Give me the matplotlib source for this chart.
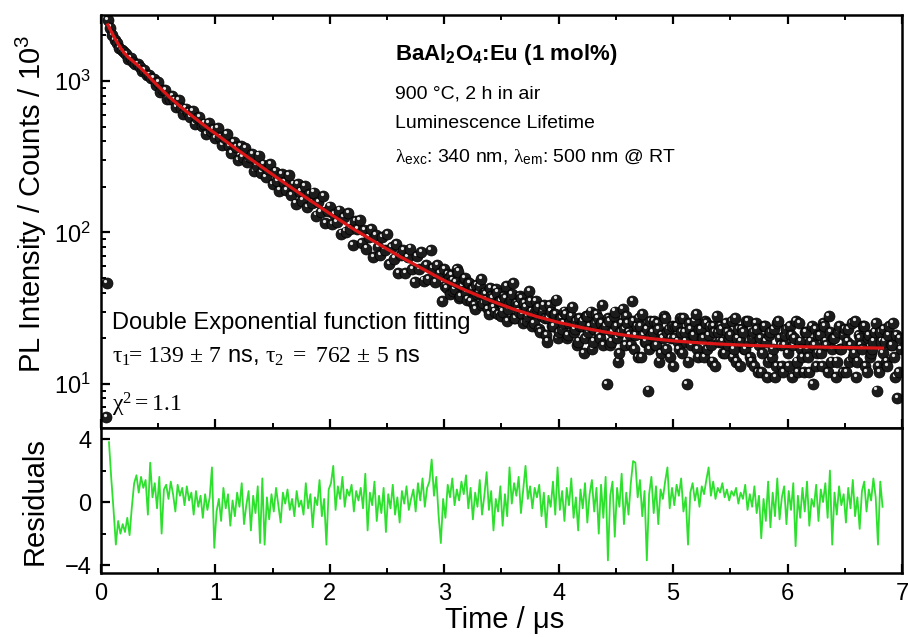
"""
PL decay of BaAl2O4:Eu (1 mol%) with double exponential fit and residuals.
"""

import matplotlib
import numpy as np

matplotlib.use("Agg")
import matplotlib.pyplot as plt
import matplotlib.transforms as mtransforms
from matplotlib.ticker import LogLocator, MultipleLocator, NullFormatter

plt.rcParams["font.family"] = ["Liberation Sans", "DejaVu Sans"]
plt.rcParams["mathtext.fontset"] = "custom"
plt.rcParams["mathtext.rm"] = "Liberation Serif"
plt.rcParams["mathtext.it"] = "Liberation Serif:italic"
plt.rcParams["mathtext.bf"] = "Liberation Sans:bold"
plt.rcParams["mathtext.sf"] = "Liberation Sans"

# points before the rise (µs, counts)
pre_t = [0.045, 0.05]
pre_counts = [6.0, 46.0]

# decay data, channels of 0.02 µs starting at 0.06 µs
t_start, t_step = 0.06, 0.02
counts = [
    2530, 2250, 2010, 1860, 1790, 1650, 1600, 1560, 1510, 1400,
    1420, 1330, 1290, 1300, 1240, 1170, 1180, 1090, 1100, 1040,
    1036, 943, 980, 847, 875, 875, 755, 761, 798, 746,
    676, 749, 663, 608, 658, 622, 576, 629, 520, 568,
    577, 503, 523, 445, 524, 464, 482, 420, 487, 424,
    379, 421, 446, 373, 334, 395, 364, 299, 373, 314,
    361, 293, 313, 329, 253, 276, 321, 248, 280, 231,
    261, 281, 209, 252, 218, 189, 242, 216, 191, 240,
    177, 207, 155, 209, 186, 162, 201, 146, 179, 157,
    183, 129, 158, 136, 173, 115, 138, 148, 114, 132,
    117, 139, 98, 126, 101, 134, 106, 82, 118, 105,
    120, 85, 103, 78, 93, 105, 69, 96, 80, 71,
    93, 77, 97, 62, 80, 67, 84, 54, 71, 76,
    54, 69, 78, 57, 47, 70, 57, 74, 48, 61,
    49, 76, 58, 47, 61, 54, 35, 57, 43, 50,
    52, 41, 47, 55, 38, 44, 50, 36, 46, 42,
    33, 45, 40, 49, 34, 39, 31, 43, 37, 30,
    40, 35, 28, 38, 44, 31, 36, 46, 27, 33,
    38, 29, 34, 26, 41, 30, 25, 35, 32, 22,
    30, 27, 19, 33, 24, 29, 36, 22, 27, 25,
    29, 21, 26, 32, 23, 18, 27, 24, 16, 28,
    22, 30, 19, 25, 27, 20, 33, 23, 10, 26,
    19, 28, 24, 14, 22, 31, 18, 25, 21, 35,
    17, 24, 27, 15, 21, 19, 9, 26, 22, 18,
    25, 14, 21, 28, 17, 23, 20, 13, 24, 19,
    27, 16, 22, 10, 25, 18, 21, 29, 15, 23,
    20, 26, 17, 24, 14, 22, 28, 19, 23, 16,
    25, 18, 21, 15, 27, 20, 13, 23, 17, 26,
    19, 14, 22, 25, 12, 20, 16, 24, 11, 21,
    15, 23, 13, 26, 18, 12, 21, 16, 24, 11,
    20, 14, 25, 17, 12, 22, 15, 19, 10, 23,
    16, 21, 13, 24, 18, 28, 14, 20, 11, 22,
    17, 12, 23, 19, 14, 25, 16, 11, 21, 18,
    24, 13, 20, 15, 17, 22, 9, 12, 19, 23,
    14, 21, 18, 25, 11, 8, 20,
]

# interleaved tail channels (3.01 ... 6.99 µs), where the record is densest
tail_start = 3.01
tail_counts = [
    44, 53, 39, 48, 42, 57, 37, 45, 49, 40,
    46, 35, 42, 31, 39, 44, 33, 40, 36, 29,
    38, 32, 42, 29, 35, 30, 37, 26, 34, 39,
    27, 34, 30, 37, 25, 32, 28, 35, 24, 30,
    31, 23, 28, 33, 21, 27, 30, 24, 29, 20,
    27, 23, 30, 20, 25, 28, 22, 26, 19, 24,
    26, 20, 28, 24, 17, 23, 29, 21, 25, 18,
    24, 27, 18, 22, 30, 20, 16, 25, 23, 28,
    22, 18, 26, 21, 15, 24, 29, 19, 23, 17,
    21, 26, 18, 23, 16, 20, 27, 22, 15, 24,
    20, 24, 17, 22, 27, 19, 14, 23, 21, 26,
    17, 23, 20, 15, 25, 21, 18, 24, 13, 22,
    24, 19, 16, 22, 20, 26, 17, 14, 23, 19,
    22, 17, 26, 15, 20, 13, 23, 18, 12, 24,
    19, 14, 22, 17, 11, 25, 20, 13, 18, 23,
    13, 21, 18, 26, 12, 19, 15, 22, 17, 12,
    24, 18, 13, 21, 16, 25, 19, 12, 22, 17,
    20, 14, 24, 17, 21, 12, 23, 18, 15, 26,
    14, 20, 17, 24, 12, 21, 16, 19, 25, 13,
    22, 16, 19, 13, 24, 18, 15, 21, 12, 17,
]

# fitted curve
fit_t = [0.06, 0.08, 0.10, 0.12, 0.14, 0.16, 0.18, 0.20, 0.24, 0.28,
         0.32, 0.36, 0.40, 0.45, 0.50, 0.55, 0.60, 0.70, 0.80, 0.90,
         1.0, 1.2, 1.4, 1.6, 1.8, 2.0, 2.2, 2.4, 2.6, 2.8,
         3.0, 3.2, 3.4, 3.6, 3.8, 4.0, 4.2, 4.4, 4.6, 4.8,
         5.0, 5.2, 5.4, 5.6, 5.8, 6.0, 6.2, 6.4, 6.6, 6.83]
fit_counts = [2350, 2190, 2050, 1920, 1810, 1710, 1620, 1540, 1430, 1350,
              1270, 1190, 1110, 1010, 925, 850, 780, 672, 584, 511,
              449, 348, 272, 213, 168, 133, 106, 86, 70, 58,
              48, 41, 35.5, 31.2, 27.9, 25.4, 23.5, 22.0, 20.8, 19.9,
              19.2, 18.7, 18.3, 18.0, 17.8, 17.6, 17.5, 17.4, 17.3, 17.2]

# weighted residuals, 0.02 µs steps from 0.07 µs
r_start, r_step = 0.07, 0.02
residuals = [
    3.8, 1.5, -0.5, -2.7, -1.2, -2.0, -1.4, -1.9, -1.0, -2.1,
    -0.3, 1.2, 1.7, 0.6, 1.6, 0.9, 1.4, -0.8, 2.5, 0.3,
    1.2, -0.4, 1.6, -2.0, 0.8, 1.1, 0.2, 1.3, 0.5, -0.6,
    1.1, 0.4, 0.9, -0.2, 1.0, 0.1, 0.6, -0.8, 0.7, -0.3,
    0.4, -1.0, 0.5, -0.5, 0.3, 2.2, -2.9, -0.6, 0.2, -1.2,
    0.9, -0.4, 0.5, -1.5, 0.1, -0.9, 0.6, -0.3, 1.2, -1.4,
    -0.2, 0.7, -1.8, 0.4, -0.7, 1.0, -2.6, 1.5, -2.7, 0.3,
    -1.1, 0.5, -0.6, 0.9, -0.2, -1.3, 0.6, -0.1, 0.8, -0.5,
    0.2, -0.9, 0.7, -0.3, 0.1, -0.8, 1.2, -0.4, 0.5, -1.6,
    0.3, -0.2, 1.4, -0.9, 0.2, -2.7, 0.8, 1.2, 2.3, -0.5,
    1.0, 0.2, 1.6, -0.3, 0.8, 0.4, 1.1, -0.6, 0.7, 0.1,
    0.9, -0.4, 1.8, -1.8, 0.6, -0.2, 1.3, -1.2, 0.4, -0.7,
    0.9, -1.9, 0.5, -0.4, 1.1, -0.8, 0.3, -1.3, 0.7, -0.1,
    1.0, -0.5, 0.2, 0.8, -0.6, 1.2, 0.1, 1.5, -0.3, 0.9,
    1.3, 2.7, 0.4, 1.6, -0.8, -2.6, 0.2, -1.0, 1.1, 0.3,
    1.5, -0.2, 0.8, 0.1, 1.3, 0.5, 1.7, -0.4, 0.9, -1.1,
    0.6, -0.3, 1.4, -0.8, 0.4, 1.9, -0.5, 0.7, -1.8, 0.2,
    -0.6, 1.0, -1.5, 0.5, -0.9, 2.2, -0.1, 1.2, 0.4, 1.6,
    -0.7, 0.8, 2.3, 0.2, 1.0, -0.4, 0.9, 0.3, 1.1, -0.9,
    0.6, -1.6, 0.4, -0.3, 1.3, -0.8, 2.2, -0.5, 0.7, -1.2,
    0.9, -0.2, 1.5, -1.0, 0.3, -1.8, 0.8, -0.4, 1.2, -1.3,
    0.5, 1.4, -0.6, 0.9, -2.0, 1.1, -1.0, 1.6, -3.7, 0.4,
    1.3, -2.2, 0.9, -0.3, 1.8, -1.4, 0.6, -0.8, 1.2, 2.6,
    2.5, 0.3, 1.4, -0.9, 0.7, -3.7, 0.5, 1.6, -0.7, 1.0,
    -1.4, 0.8, 0.2, 1.3, 2.2, -0.4, 0.9, -0.2, 1.1, 0.4,
    1.5, -0.6, 0.3, -2.7, 0.6, 1.2, 0.1, 0.9, -0.3, 1.0,
    0.5, 1.4, 2.2, 0.4, 1.3, 0.2, 0.9, 0.6, 1.2, 0.3,
    0.8, 0.1, 0.7, 0.4, 0.9, -0.1, 0.6, 0.2, 1.1, -0.5,
    0.5, -0.3, 1.0, -0.7, 0.4, -2.3, 0.2, -1.2, 1.3, -1.6,
    0.6, -0.9, 1.5, -1.1, 0.3, 1.0, -1.4, 0.7, -0.5, 1.2,
    -2.8, 0.4, -1.0, 0.9, -0.6, 1.3, -1.5, 0.2, -0.3, 1.1,
    -1.2, 0.8, 0.0, 1.2, -1.0, 2.0, -2.7, 0.6, -0.8, 1.0,
    -0.2, 0.5, -1.3, 0.9, -0.4, 1.4, -0.9, 0.3, -1.7, 0.7,
    1.3, -0.6, 0.8, 0.1, 1.5, 0.3, -2.7, 1.3, -0.3,
]

t_data = np.round(t_start + t_step * np.arange(len(counts)), 3)
t_tail = np.round(tail_start + t_step * np.arange(len(tail_counts)), 3)
t_res = np.round(r_start + r_step * np.arange(len(residuals)), 3)

fig = plt.figure(figsize=(9.08, 6.37), dpi=100)
ax1 = fig.add_axes([0.1112, 0.3281, 0.8822, 0.6484])
ax2 = fig.add_axes([0.1112, 0.1005, 0.8822, 0.2276])

# merge all channels in time order, then draw shaded spheres point by point
all_t = np.concatenate([pre_t, t_data, t_tail])
all_c = np.concatenate([pre_counts, counts, tail_counts])
order = np.argsort(all_t, kind="stable")
hl = ax1.transData + mtransforms.ScaledTranslation(-1.0 / 72, 1.6 / 72, fig.dpi_scale_trans)
for ti, ci in zip(all_t[order], all_c[order]):
    ax1.plot(ti, ci, "o", ms=7.9, mfc="#1c1c1c", mec="#000000", mew=0.5, zorder=2)
    ax1.plot(ti, ci, "o", ms=2.3, mfc="#e4e4e4", mec="none", transform=hl, zorder=2)

ax1.plot(fit_t, fit_counts, color="#dc1616", lw=2.3, zorder=3)

ax1.set_yscale("log")
ax1.set_xlim(0, 7)
ax1.set_ylim(5.1, 2730)
ax1.yaxis.set_major_locator(LogLocator(base=10, numticks=10))
ax1.yaxis.set_minor_locator(LogLocator(base=10, subs=np.arange(2, 10), numticks=20))
ax1.yaxis.set_minor_formatter(NullFormatter())
ax1.xaxis.set_major_locator(MultipleLocator(1))
ax1.xaxis.set_minor_locator(MultipleLocator(0.5))
ax1.tick_params(axis="x", which="both", direction="in", top=True, bottom=True,
                labelbottom=False)
ax1.tick_params(axis="y", which="both", direction="in", right=False)

ax2.plot(t_res, residuals, color="#2ee02e", lw=1.3)
ax2.set_xlim(0, 7)
ax2.set_ylim(-4.5, 4.7)
ax2.set_yticks([-4, 0, 4])
ax2.yaxis.set_minor_locator(MultipleLocator(2))
ax2.xaxis.set_major_locator(MultipleLocator(1))
ax2.xaxis.set_minor_locator(MultipleLocator(0.5))
ax2.tick_params(axis="both", which="both", direction="in", top=False, right=False)

for ax in (ax1, ax2):
    for sp in ax.spines.values():
        sp.set_linewidth(1.8)
    ax.tick_params(which="major", length=6.5, width=1.6, labelsize=17, pad=7)
    ax.tick_params(which="minor", length=3.8, width=1.4)

ax1.set_ylabel(r"PL Intensity / Counts / $\mathdefault{10^{3}}$", fontsize=21)
ax1.yaxis.set_label_coords(-0.065, 0.542)
ax2.set_ylabel("Residuals", fontsize=21)
ax2.yaxis.set_label_coords(-0.065, 0.493)
ax2.set_xlabel("Time / μs", fontsize=21)
ax2.xaxis.set_label_coords(0.504, -0.225)

tx = 0.367
ax1.text(tx, 0.891, r"BaAl$_\mathbf{2}$O$_\mathbf{4}$:Eu (1 mol%)", transform=ax1.transAxes,
         fontsize=16, fontweight="bold", va="baseline")
ax1.text(tx, 0.797, "900 °C, 2 h in air", transform=ax1.transAxes, fontsize=14, va="baseline")
ax1.text(tx, 0.726, "Luminescence Lifetime", transform=ax1.transAxes, fontsize=14,
         va="baseline")
ax1.text(tx, 0.644,
         r"$\mathrm{\lambda}_{\mathsf{exc}}$: 340 nm, $\mathrm{\lambda}_{\mathsf{em}}$: 500 nm @ RT",
         transform=ax1.transAxes, fontsize=14, va="baseline")

bx = 0.0137
ax1.text(bx, 0.240, "Double Exponential function fitting", transform=ax1.transAxes,
         fontsize=17, va="baseline")
ax1.text(bx, 0.157,
         r"$\mathrm{\tau_1\!\!=\,139\,\pm\,7}$ ns, $\mathrm{\tau_2\ =\ 762\,\pm\,5}$ ns",
         transform=ax1.transAxes, fontsize=17, va="baseline")
ax1.text(bx, 0.039, r"$\mathrm{\chi^2 = 1.1}$", transform=ax1.transAxes, fontsize=17,
         va="baseline")

fig.savefig("out.png", dpi=100)
plt.close(fig)
